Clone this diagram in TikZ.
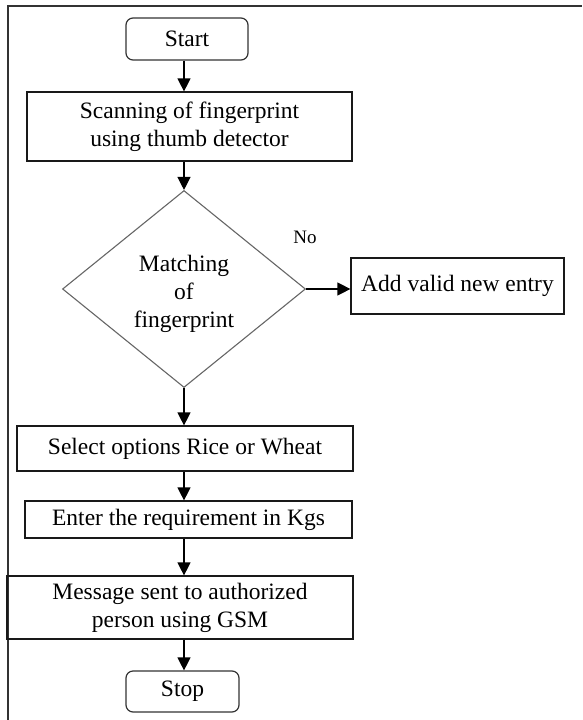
\documentclass[tikz,border=0pt]{standalone}
\usepackage{fontspec}
\setmainfont{Liberation Serif}
\usetikzlibrary{arrows.meta,shapes.geometric}
\begin{document}
\begin{tikzpicture}[x=1pt,y=-1pt,
  txt/.style={font=\fontsize{23.5}{28}\selectfont},
  box/.style={txt, draw=black!90, line width=1.2pt, rectangle, inner sep=0pt, align=center},
  term/.style={box, rounded corners=7pt, draw=black!80},
  dec/.style={draw=black!60, line width=1.1pt, diamond, inner sep=0pt},
  flow/.style={line width=1.2pt, draw=black, -{Triangle[length=13pt,width=13pt]}},
  frameline/.style={draw=black!80, line width=2.5pt}]
\useasboundingbox (0,0) rectangle (582,720);
\coordinate (fb) at (8,720);
\coordinate (fc) at (8,6);
\coordinate (fr) at (582,6);
\draw[frameline] (fb) -- (fc) -- (fr);
\coordinate (axis) at (184,0);

\node[term, minimum width=122, minimum height=42] (start) at (187,39) {Start};
\node[box, minimum width=325, minimum height=69] (scan) at (189.5,126.5) {Scanning of fingerprint\\using thumb detector};
\node[dec, minimum width=243, minimum height=197] (match) at (184,289) {};
\node[txt, align=center, inner sep=0pt] (matchtxt) at (184,294) {Matching\\of\\fingerprint};
\node[box, minimum width=213, minimum height=56] (add) at (457.5,286) {Add valid new entry};
\node[txt, font=\fontsize{19}{22}\selectfont] (no) at (305,237) {No};
\node[box, minimum width=336, minimum height=45] (sel) at (185,448.5) {Select options Rice or Wheat};
\node[box, minimum width=327, minimum height=37] (ent) at (188.5,519.5) {Enter the requirement in Kgs};
\node[box, minimum width=346, minimum height=63] (msg) at (180,607.5) {Message sent to authorized\\person using GSM};
\node[term, minimum width=113, minimum height=41] (stop) at (182.5,691.5) {Stop};

\draw[flow] (start.south -| axis) -- (scan.north -| axis);
\draw[flow] (scan.south -| axis) -- (match.north);
\draw[flow] (match.east) -- (match.east -| add.west);
\draw[flow] (match.south) -- (sel.north -| axis);
\draw[flow] (sel.south -| axis) -- (ent.north -| axis);
\draw[flow] (ent.south -| axis) -- (msg.north -| axis);
\draw[flow] (msg.south -| axis) -- (stop.north -| axis);
\end{tikzpicture}
\end{document}
